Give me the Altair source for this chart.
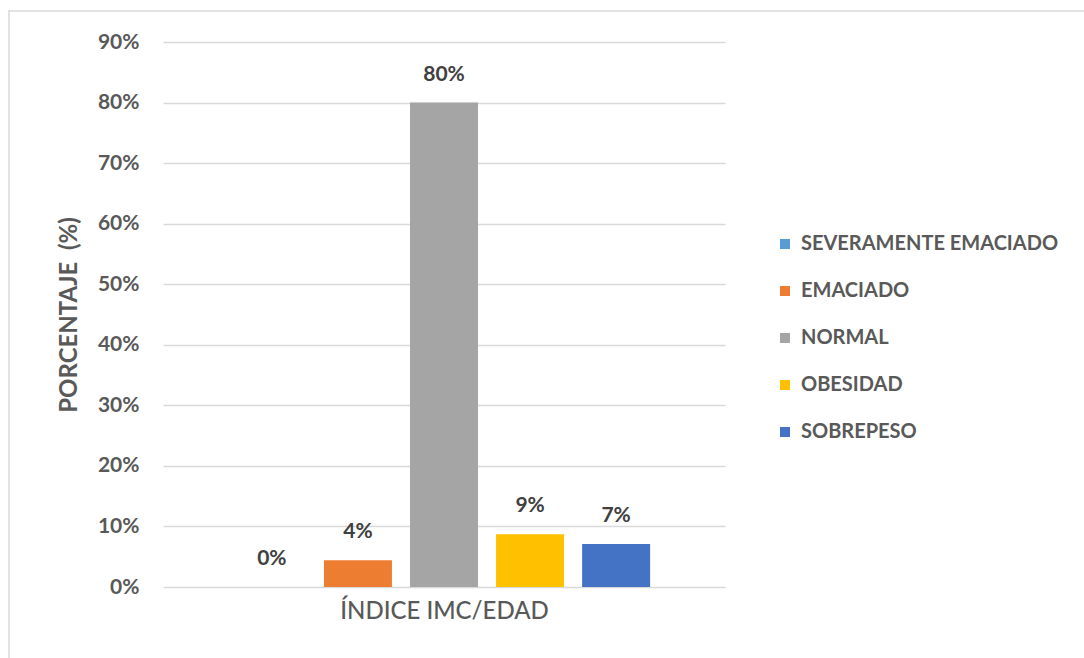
import altair as alt
import pandas as pd

# Distribución del índice IMC/EDAD
categorias = ["SEVERAMENTE EMACIADO", "EMACIADO", "NORMAL", "OBESIDAD", "SOBREPESO"]
porcentajes = [0.0, 4.4, 80.0, 8.7, 7.1]
colores = ["#5B9BD5", "#ED7D31", "#A5A5A5", "#FFC000", "#4472C4"]
ticks_y = [0, 10, 20, 30, 40, 50, 60, 70, 80, 90]

FUENTE = "Lato"
GRIS_TEXTO = "#595959"

df = pd.DataFrame({"categoria": categorias, "pct": porcentajes})

base = alt.Chart(df).transform_calculate(
    etiqueta="format(datum.pct, '.0f') + '%'"
)

x_enc = alt.X(
    "categoria:N",
    sort=categorias,
    scale=alt.Scale(paddingInner=0.21, paddingOuter=0.87),
    axis=alt.Axis(
        labels=False, ticks=False, domain=False, title="ÍNDICE IMC/EDAD",
        titleFont=FUENTE, titleFontSize=24, titleFontWeight=500,
        titleColor=GRIS_TEXTO, titlePadding=12,
    ),
)

y_enc = alt.Y(
    "pct:Q",
    scale=alt.Scale(domain=[0, 90], nice=False),
    axis=alt.Axis(
        values=ticks_y, labelExpr="datum.value + '%'",
        title="PORCENTAJE\u00a0\u00a0(%)",
        domain=False, ticks=False, grid=True, gridColor="#D9D9D9", gridWidth=1.3,
        labelFont=FUENTE, labelFontSize=21, labelFontWeight="bold",
        labelColor=GRIS_TEXTO, labelPadding=24,
        titleFont=FUENTE, titleFontSize=24, titleFontWeight="bold",
        titleColor=GRIS_TEXTO, titlePadding=16,
    ),
)

barras = base.mark_bar().encode(
    x=x_enc,
    y=y_enc,
    color=alt.Color(
        "categoria:N",
        sort=categorias,
        scale=alt.Scale(domain=categorias, range=colores),
        legend=alt.Legend(
            title=None, orient="none", legendX=612, legendY=192,
            symbolType="square", symbolSize=100, symbolStrokeWidth=0,
            labelFont=FUENTE, labelFontSize=20, labelFontWeight="bold",
            labelColor=GRIS_TEXTO, rowPadding=27, labelOffset=6,
            labelLimit=400,
        ),
    ),
)

etiquetas = base.mark_text(
    baseline="bottom", dy=-18, font=FUENTE, fontSize=21, fontWeight="bold",
    color="#404040",
).encode(
    x=alt.X("categoria:N", sort=categorias),
    y="pct:Q",
    text="etiqueta:N",
)

# Marco exterior del gráfico
marco = alt.Chart(alt.Data(values=[{}]))
borde_izq = marco.mark_rule(color="#D9D9D9", strokeWidth=1.5).encode(
    x=alt.value(-154), y=alt.value(-32), y2=alt.value(616)
)
borde_sup = marco.mark_rule(color="#D9D9D9", strokeWidth=1.5).encode(
    x=alt.value(-154), x2=alt.value(921), y=alt.value(-31)
)

chart = alt.layer(barras, etiquetas, borde_izq, borde_sup).properties(
    width=562,
    height=545,
    autosize=alt.AutoSizeParams(type="none"),
    padding={"left": 163, "top": 42, "right": 359, "bottom": 71},
    background="white",
).configure_view(stroke=None)

chart.save("out.html", embed_options={"renderer": "svg", "actions": False})
